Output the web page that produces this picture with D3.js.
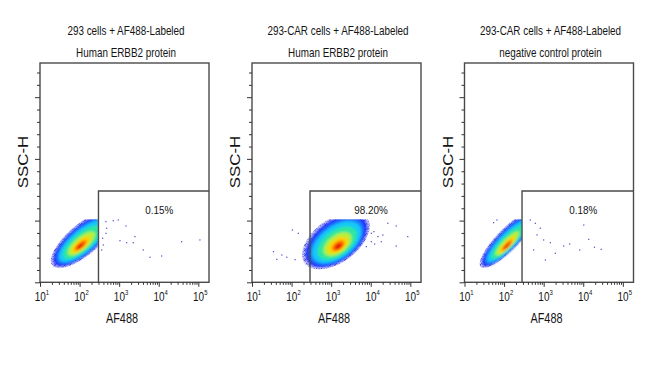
<!DOCTYPE html>
<html><head><meta charset="utf-8">
<script src="https://cdn.jsdelivr.net/npm/d3@7"></script>
<style>
body{margin:0;background:#fff}
svg{display:block}
text{font-family:"Liberation Sans",Arial,Helvetica,sans-serif;fill:#141414}
</style>
</head><body>
<svg id="c" width="650" height="366"></svg>
<script>
// ---------- data ----------
const titleLine1 = ["293 cells + AF488-Labeled", "293-CAR cells + AF488-Labeled", "293-CAR cells + AF488-Labeled"];
const titleLine2 = ["Human ERBB2 protein", "Human ERBB2 protein", "negative control protein"];
const gatePercent = ["0.15%", "98.20%", "0.18%"];
const xAxisLabel = "AF488";
const yAxisLabel = "SSC-H";
const xTickExponents = [1, 2, 3, 4, 5];
const yMajorTicks = [0, 50, 100, 150];          // SSC-H (x1000), unlabeled
const sscAxisMax = 177.7;
const af488AxisMax = 186000;
const gateAF488 = [300, 292, 284];               // left edge of gate
const gateSsc = 74;                              // top edge of gate

// main cluster summary (log10 AF488, SSC x1000)
const popLogCenter = [2.10, 3.12, 2.10];         // centre of outer envelope
const popSscCenter = [35, 34, 35];
const popLogPeak = [2.01, 3.19, 2.07];           // position of density maximum
const popSscPeak = [28.8, 28.6, 28.8];
const popLogSd = [0.30, 0.31, 0.26];
const popSscSd = [8.5, 8.5, 8.5];
const popRho = [0.75, 0.50, 0.86];
const popLogMax = [2.46, 5.3, 2.45];
const popSscMax = 50.8;
const densityLevels = [2.75, 2.5, 2.25, 2.0, 1.6, 1.15, 0.8, 0.5, 0.28];
const densityColors = ["#3c3ce8", "#1c2cfa", "#1a78ff", "#12c8f8", "#2ee6a0", "#b4f03c", "#ffd200", "#ff7000", "#e01a00"];

// sparse single events outside the main cluster: [log10 AF488, SSC x1000]
const events1 = [[2.667,49.1],[2.851,49.9],[2.977,50.5],[3.172,45.6],[3.020,33.7],[3.189,32.1],[3.356,32.1],[3.399,37.0],
  [3.609,26.2],[3.778,20.3],[4.073,21.3],[4.578,32.9],[5.040,34.3],[2.667,39.7],[2.598,30.2],[2.558,26.2],[2.583,35.7],[2.684,43.8]];
const events2 = [[3.930,43.8],[4.015,39.7],[4.080,41.0],[4.181,37.0],[4.307,38.3],[4.432,47.8],[4.643,45.6],[4.643,29.4],
  [4.935,37.0],[4.015,32.9],[3.889,28.9],[4.098,31.0],[4.266,32.9],[1.543,24.8],[1.628,18.6],[1.879,20.3],[2.020,42.4],
  [2.088,18.3],[2.171,39.7],[1.754,22.1]];
const events3 = [[2.663,50.5],[2.790,47.8],[2.916,43.8],[2.833,38.4],[3.000,34.3],[3.043,18.1],[3.170,32.1],[3.296,23.5],
  [3.506,29.4],[3.658,31.0],[3.911,26.2],[4.013,46.4],[4.139,34.8],[4.284,28.4],[4.453,26.7],[2.747,26.2],[1.820,50.5],[1.734,48.3]];
const events = [events1, events2, events3];

// ---------- layout ----------
const svg = d3.select("#c");
const panelLeft = [40, 252, 464.5];
const panelTop = 63, panelW = 169, panelH = 219.3;
const frameColor = "#4a4a4a";

const defs = svg.append("defs");
const blur = defs.append("filter").attr("id", "soft").attr("x", "-20%").attr("y", "-20%").attr("width", "140%").attr("height", "140%");
blur.append("feGaussianBlur").attr("stdDeviation", 1.0);
// speckle pattern for the sparse outer fringe
const pat = defs.append("pattern").attr("id", "speck").attr("patternUnits", "userSpaceOnUse").attr("width", 5).attr("height", 5);
[[0.3, 0.4], [2.6, 1.2], [1.2, 2.9], [3.8, 3.4], [4.2, 0.1], [0.1, 4.1], [2.4, 4.3]].forEach(p =>
  pat.append("rect").attr("x", p[0]).attr("y", p[1]).attr("width", 1).attr("height", 1).attr("fill", "#2828d8"));

function condensedText(parent, x, y, str, size, sx, anchor) {
  const g = parent.append("g").attr("transform", `translate(${x},${y}) scale(${sx},1)`);
  return g.append("text").attr("font-size", size).attr("text-anchor", anchor || "middle").text(str);
}

panelLeft.forEach((L, i) => {
  const x = d3.scaleLog().domain([10, af488AxisMax]).range([L, L + panelW]);
  const y = d3.scaleLinear().domain([0, sscAxisMax]).range([panelTop + panelH, panelTop]);
  const g = svg.append("g");
  const cx = (L + L + panelW) / 2;

  // titles
  condensedText(g, cx + 1.5, 35, titleLine1[i], 12.5, 0.79);
  condensedText(g, cx + 1.5, 56.5, titleLine2[i], 12.5, 0.79);

  // clip for population
  const clipId = "clip" + i;
  defs.append("clipPath").attr("id", clipId).append("rect")
    .attr("x", L).attr("y", y(popSscMax))
    .attr("width", Math.min(x(10 ** popLogMax[i]), L + panelW) - L)
    .attr("height", y(0) - y(popSscMax));

  // population density contours
  const line = d3.line().x(d => x(10 ** d[0])).y(d => y(d[1])).curve(d3.curveLinearClosed);
  const clipG = g.append("g").attr("clip-path", `url(#${clipId})`);
  const fringeG = clipG.append("g");
  const popG = clipG.append("g").attr("filter", "url(#soft)");
  const r = Math.sqrt(1 - popRho[i] ** 2);
  const kMax = densityLevels[0];
  densityLevels.forEach((k, j) => {
    const f = k / kMax; // 1 at outer envelope, -> 0 at peak
    const mx = popLogPeak[i] + (popLogCenter[i] - popLogPeak[i]) * f;
    const my = popSscPeak[i] + (popSscCenter[i] - popSscPeak[i]) * f;
    const pts = d3.range(0, 72).map(t => {
      const a = t / 72 * 2 * Math.PI;
      const u = Math.cos(a), v = Math.sin(a);
      return [mx + popLogSd[i] * k * u, my + popSscSd[i] * k * (popRho[i] * u + r * v)];
    });
    if (j === 0) {
      fringeG.append("path").attr("d", line(pts)).attr("fill", "url(#speck)");
      fringeG.append("path").attr("d", line(pts)).attr("fill", densityColors[0]).attr("fill-opacity", 0.25);
    } else {
      popG.append("path").attr("d", line(pts)).attr("fill", densityColors[j]);
    }
  });

  // sparse events
  g.append("g").selectAll("rect").data(events[i]).join("rect")
    .attr("x", d => x(10 ** d[0]) - 0.6).attr("y", d => y(d[1]) - 0.6)
    .attr("width", 1.2).attr("height", 1.2).attr("fill", "#4646cc");

  // frame
  g.append("rect").attr("x", L).attr("y", panelTop).attr("width", panelW).attr("height", panelH)
    .attr("fill", "none").attr("stroke", frameColor).attr("stroke-width", 1.4);

  // gate
  const gx = x(gateAF488[i]), gy = y(gateSsc);
  g.append("path").attr("d", `M${gx},${y(0)}V${gy}H${L + panelW}`)
    .attr("fill", "none").attr("stroke", frameColor).attr("stroke-width", 1.4);
  condensedText(g, (gx + L + panelW) / 2 + 5.5, 214, gatePercent[i], 11.5, 0.86);

  // x axis ticks
  const xMajor = xTickExponents.map(e => 10 ** e);
  const xMinor = [];
  xTickExponents.forEach(e => d3.range(2, 10).forEach(m => { const v = m * 10 ** e; if (v < af488AxisMax) xMinor.push(v); }));
  const axX = g.append("g").attr("transform", `translate(0,${y(0)})`);
  axX.call(d3.axisBottom(x).tickValues(xMajor).tickSize(4.5).tickFormat(""));
  const axXm = g.append("g").attr("transform", `translate(0,${y(0)})`);
  axXm.call(d3.axisBottom(x).tickValues(xMinor).tickSize(2.5).tickFormat(""));
  [axX, axXm].forEach(a => { a.select(".domain").remove(); a.selectAll("line").attr("stroke", "#333").attr("stroke-width", 1); });

  // x tick labels 10^n
  xTickExponents.forEach(e => {
    const tx = x(10 ** e);
    const lg = g.append("g").attr("transform", `translate(${tx - 5.3},301) scale(0.74,1)`);
    const t = lg.append("text").attr("font-size", 13.5).attr("text-anchor", "start");
    t.append("tspan").text("10");
    t.append("tspan").attr("font-size", 8).attr("dy", -6).text(e);
  });

  // y axis ticks
  const yMinor = d3.range(10, sscAxisMax, 10).filter(v => v % 50 !== 0);
  const axY = g.append("g").attr("transform", `translate(${L},0)`);
  axY.call(d3.axisLeft(y).tickValues(yMajorTicks).tickSize(5).tickFormat(""));
  const axYm = g.append("g").attr("transform", `translate(${L},0)`);
  axYm.call(d3.axisLeft(y).tickValues(yMinor).tickSize(3).tickFormat(""));
  [axY, axYm].forEach(a => { a.select(".domain").remove(); a.selectAll("line").attr("stroke", "#333").attr("stroke-width", 1); });

  // axis titles
  condensedText(g, cx - 2.5, 323.3, xAxisLabel, 14.5, 0.75);
  g.append("g").attr("transform", `translate(${L - 11.7},${162}) rotate(-90) scale(1.2,1)`)
    .append("text").attr("font-size", 14).attr("text-anchor", "middle").text(yAxisLabel);
});
</script>
</body></html>
